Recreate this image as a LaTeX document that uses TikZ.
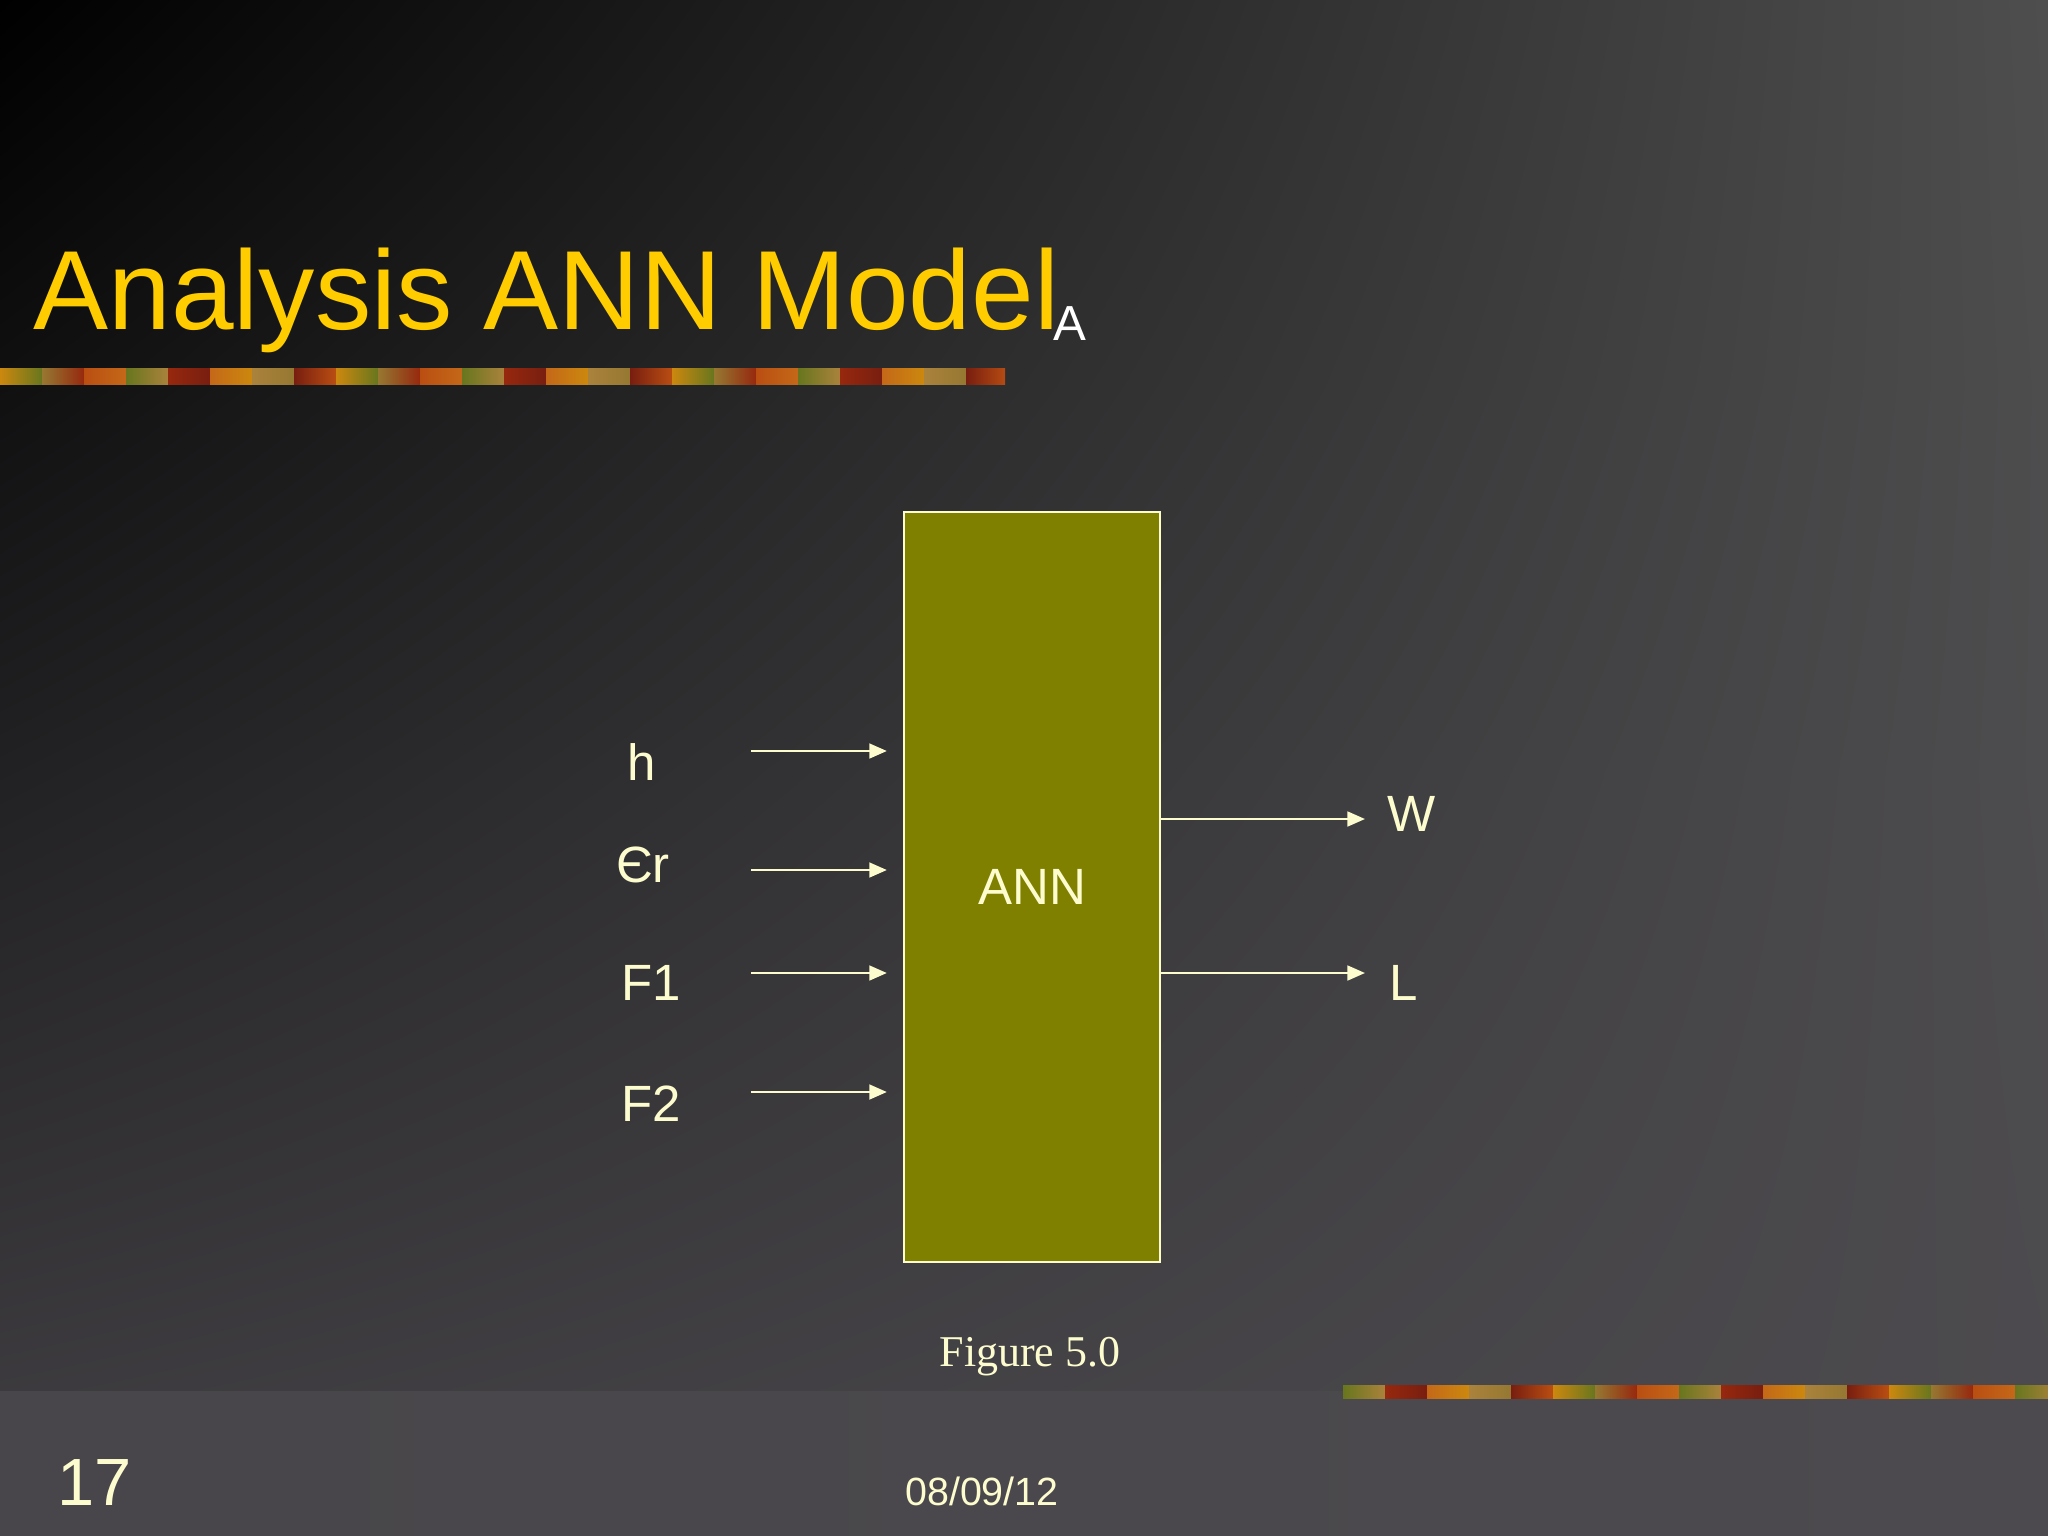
\documentclass[tikz,border=0pt]{standalone}
\usepackage{fontspec}
\setmainfont{Liberation Sans}
\newfontfamily\timesfont{Liberation Serif}
\usetikzlibrary{arrows.meta}
\usetikzlibrary{calc}
\usetikzlibrary{shadings}

\definecolor{cream}{RGB}{252,252,206}
\definecolor{titleyellow}{RGB}{255,204,0}
\definecolor{olivebox}{RGB}{128,128,0}
\definecolor{bgUR}{RGB}{78,78,78}
\definecolor{bgLL}{RGB}{66,64,68}
\definecolor{bgLR}{RGB}{76,74,78}
% strip colours
\definecolor{strip0}{RGB}{204,136,14}
\definecolor{strip1}{RGB}{150,120,50}
\definecolor{strip2}{RGB}{186,78,18}
\definecolor{strip3}{RGB}{104,118,30}
\definecolor{strip4}{RGB}{150,40,14}
\definecolor{strip5}{RGB}{196,104,24}
\definecolor{strip6}{RGB}{170,130,60}
\definecolor{strip7}{RGB}{120,30,16}

\newcommand{\drawStrip}[5]{
	% #1,#2 = x from/to, #3 = y top, #4 = height, #5 = offset
	\begin{scope}
	\clip (#1,#3) rectangle (#2,#3+#4);
	\foreach \k in {0,...,24}
	{
		\pgfmathtruncatemacro{\m}{mod(\k+#5,8)}
		\pgfmathtruncatemacro{\n}{mod(\k+#5+3,8)}
		\shade[left color=strip\m, right color=strip\n] ({#1+\k*42},#3) rectangle ({#1+\k*42+42},#3+#4);
	}
	\end{scope}
}

\begin{document}
\begin{tikzpicture}[x=0.01cm, y=-0.01cm,
	lbl/.style={text=cream, inner sep=0pt, anchor=base, font=\fontsize{14.5}{17}\selectfont},
	outlbl/.style={lbl, anchor=base west},
	annbox/.style={draw=cream, line width=0.6pt, fill=olivebox, text=cream,
		minimum width=2.56cm, minimum height=7.5cm, inner sep=0pt, font=\fontsize{14.5}{17}\selectfont},
	arrow/.style={draw=cream, line width=0.7pt, -{Triangle[length=5pt, width=4.2pt]}}]
%%%%%%%%%%%%%%%%%%

% Background
\useasboundingbox (0,0) rectangle (2048,1536);
\shade[upper left=black, upper right=bgUR, lower left=bgLL, lower right=bgLR] (0,0) rectangle (2048,1536);
\shade[left color=bgLL!97!white, right color=bgLR] (0,1391) rectangle (2048,1536);

% Decorative strips
\drawStrip{0}{1005}{368}{16}{0}
\drawStrip{1343}{2048}{1385}{13}{3}

% Title
\node[text=titleyellow, inner sep=0pt, anchor=base west, font=\fontsize{32}{38}\selectfont] (title) at (33,329) {Analysis ANN Model};
\node[text=white, inner sep=0pt, anchor=base west, font=\fontsize{14}{17}\selectfont] (subA) at (1053,340) {A};

% ANN block
\node[annbox] (ann) at (1032,887) {ANN};

% Inputs
\node[lbl] (h) at (642,780) {h};
\node[lbl] (er) at (643,882) {Єr};
\node[lbl] (fa) at (651,1000) {F1};
\node[lbl] (fb) at (651,1121) {F2};

\coordinate (hIn) at (751,751);
\coordinate (erIn) at (751,870);
\coordinate (faIn) at (751,973);
\coordinate (fbIn) at (751,1092);
\foreach \p in {hIn,erIn,faIn,fbIn}
{
	\draw[arrow, shorten >=0.16cm] (\p) -- (\p -| ann.west);
}

% Outputs
\node[outlbl] (w) at (1387,831) {W};
\node[outlbl] (l) at (1389,1000) {L};
\coordinate (wOut) at (1365,819);
\coordinate (lOut) at (1365,973);
\draw[arrow] (ann.east |- wOut) -- (wOut);
\draw[arrow] (ann.east |- lOut) -- (lOut);

% Caption and footer
\node[text=cream, inner sep=0pt, anchor=base, font=\timesfont\fontsize{12.5}{15}\selectfont] (caption) at (1030,1366) {Figure 5.0};
\node[text=cream, inner sep=0pt, anchor=base west, font=\fontsize{19}{23}\selectfont] (page) at (57,1505) {17};
\node[text=cream, inner sep=0pt, anchor=base, font=\fontsize{11.2}{14}\selectfont] (date) at (982,1505) {08/09/12};
\end{tikzpicture}
\end{document}
